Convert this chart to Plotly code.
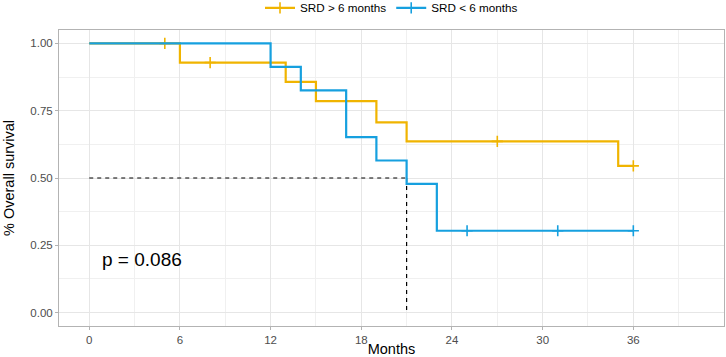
import plotly.graph_objects as go

# Kaplan-Meier step data (event times and survival levels)
srd_gt6_times = [0, 6, 13, 15, 19, 21, 35, 36]
srd_gt6_surv = [1.0, 0.929, 0.857, 0.786, 0.707, 0.636, 0.545, 0.545]
srd_gt6_cens_t = [5, 8, 27, 36]
srd_gt6_cens_s = [1.0, 0.929, 0.636, 0.545]

srd_lt6_times = [0, 12, 14, 17, 19, 21, 23, 36]
srd_lt6_surv = [1.0, 0.913, 0.826, 0.652, 0.565, 0.478, 0.304, 0.304]
srd_lt6_cens_t = [25, 31, 36]
srd_lt6_cens_s = [0.304, 0.304, 0.304]

median_time = 21
median_surv = 0.5
p_label = "p = 0.086"

x_ticks = [0, 6, 12, 18, 24, 30, 36]
y_ticks = [0.0, 0.25, 0.5, 0.75, 1.0]
y_tick_labels = ["0.00", "0.25", "0.50", "0.75", "1.00"]

ORANGE = "#F0B400"
BLUE = "#16A0DF"
FONT = "Liberation Sans, Arial, sans-serif"

fig = go.Figure()

# median lines
fig.add_trace(go.Scatter(x=[0, median_time], y=[median_surv, median_surv], mode="lines",
                         line=dict(color="black", width=1.2, dash="4px,4px"),
                         showlegend=False, hoverinfo="skip"))
fig.add_trace(go.Scatter(x=[median_time, median_time], y=[median_surv, 0], mode="lines",
                         line=dict(color="black", width=1.2, dash="4px,4px"),
                         showlegend=False, hoverinfo="skip"))

for name, t, s, ct, cs, col in [
    ("SRD > 6 months", srd_gt6_times, srd_gt6_surv, srd_gt6_cens_t, srd_gt6_cens_s, ORANGE),
    ("SRD < 6 months", srd_lt6_times, srd_lt6_surv, srd_lt6_cens_t, srd_lt6_cens_s, BLUE),
]:
    fig.add_trace(go.Scatter(x=t, y=s, mode="lines", line=dict(color=col, width=2.2, shape="hv"),
                             showlegend=False, name=name))
    fig.add_trace(go.Scatter(x=ct, y=cs, mode="markers",
                             marker=dict(symbol="cross-thin-open", size=8, color=col,
                                         line=dict(color=col, width=1.6)),
                             showlegend=False, name=name))
    # legend entry
    fig.add_trace(go.Scatter(x=[None], y=[None], mode="lines+markers", name=name,
                             line=dict(color=col, width=2.2),
                             marker=dict(symbol="cross-thin-open", size=8, color=col,
                                         line=dict(color=col, width=1.6))))

fig.add_annotation(x=0.7, y=0.196, xref="x", yref="y", text=p_label, showarrow=False,
                   xanchor="left", yanchor="middle", font=dict(size=19, color="black", family=FONT))

axis_common = dict(showline=True, mirror=True, linecolor="#B3B3B3", linewidth=1,
                   ticks="outside", ticklen=3, tickcolor="#B3B3B3", tickwidth=1,
                   showgrid=True, gridcolor="#E6E6E6", gridwidth=1, zeroline=False,
                   tickfont=dict(size=11.5, color="#4D4D4D", family=FONT))

fig.update_xaxes(range=[-2, 42], tickvals=x_ticks,
                 minor=dict(dtick=3, tick0=0, showgrid=True, gridcolor="#F0F0F0", gridwidth=0.6),
                 title=dict(text="Months", font=dict(size=14.5, color="black", family=FONT), standoff=2),
                 **axis_common)
fig.update_yaxes(range=[-0.05, 1.05], tickvals=y_ticks, ticktext=y_tick_labels,
                 minor=dict(dtick=0.125, tick0=0, showgrid=True, gridcolor="#F0F0F0", gridwidth=0.6),
                 title=dict(text="% Overall survival", font=dict(size=14.5, color="black", family=FONT), standoff=12),
                 **axis_common)

fig.update_layout(width=726, height=357, margin=dict(l=59, r=2, t=30, b=31, autoexpand=False),
                  plot_bgcolor="white", paper_bgcolor="white",
                  font=dict(family=FONT),
                  legend=dict(orientation="h", x=0.5, xanchor="center", y=1.075, yref="paper",
                              yanchor="middle", font=dict(size=11.7, color="black", family=FONT),
                              itemwidth=30, tracegroupgap=0, bgcolor="rgba(0,0,0,0)"))

fig.write_html("out.html", config={"displayModeBar": False},
               post_script="document.body.style.margin='0';document.body.style.padding='0';"
                           "document.documentElement.style.overflow='hidden';")
